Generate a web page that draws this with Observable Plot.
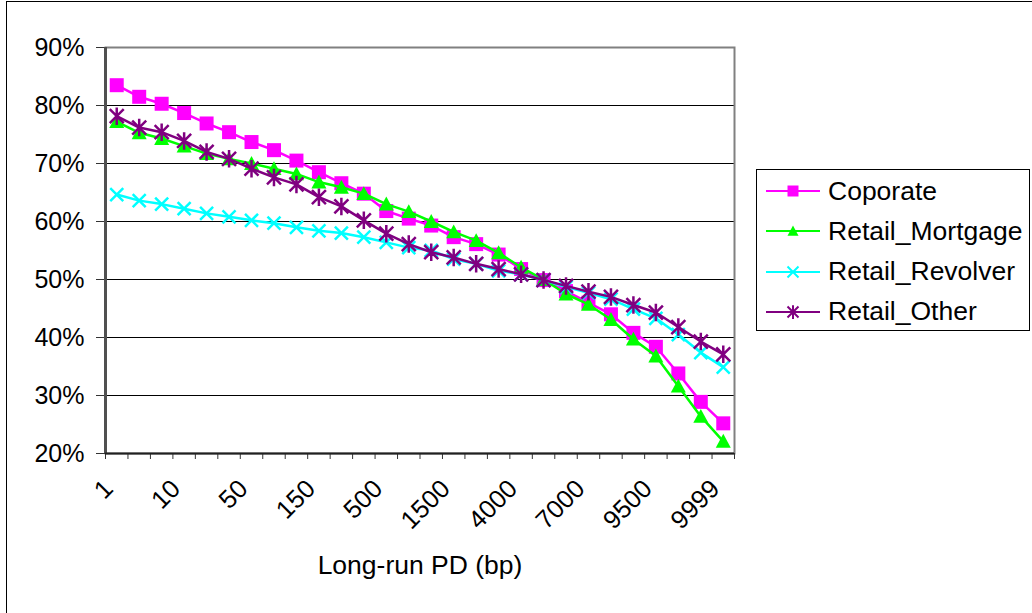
<!DOCTYPE html>
<html>
<head>
<meta charset="utf-8">
<script src="https://cdn.jsdelivr.net/npm/d3@7"></script>
<script src="https://cdn.jsdelivr.net/npm/@observablehq/plot@0.6"></script>
<style>
  body { margin: 0; background: #fff; font-family: "Liberation Sans", Arial, sans-serif; }
  #wrap { position: relative; width: 1032px; height: 613px; overflow: hidden; background: #fff; }
  #wrap > svg { position: absolute; left: 0; top: 0; }
  #border { position: absolute; left: 6px; top: 1px; width: 1040px; height: 640px; border: 1px solid #000; box-sizing: border-box; pointer-events: none; }
  #legend { position: absolute; left: 756px; top: 169px; width: 274px; height: 162px; border: 1px solid #000; box-sizing: border-box; background: #fff; }
  .item { position: absolute; left: 8px; height: 40px; display: flex; align-items: center; font-size: 26.5px; color: #000; white-space: nowrap; }
  .item svg { display: block; margin-right: 7px; }
</style>
</head>
<body>
<div id="wrap"><div id="border"></div></div>
<script>
// ---- data ----
const pdTickLabels = ["1", "10", "50", "150", "500", "1500", "4000", "7000", "9500", "9999"];
const labelStep = 3;
const nCategories = 28;
const yTickValues = [0.2, 0.3, 0.4, 0.5, 0.6, 0.7, 0.8, 0.9];
const xTitle = "Long-run PD (bp)";

const seriesNames = ["Coporate", "Retail_Mortgage", "Retail_Revolver", "Retail_Other"];
const seriesColors = ["#FF00FF", "#00FF00", "#00FFFF", "#800080"];

const coporate = [0.835, 0.815, 0.803, 0.787, 0.769, 0.754, 0.737, 0.723, 0.705, 0.685, 0.666, 0.648, 0.618, 0.605,
                  0.593, 0.573, 0.561, 0.543, 0.518, 0.499, 0.480, 0.460, 0.440, 0.408, 0.384, 0.338, 0.289, 0.252];
const retailMortgage = [0.772, 0.753, 0.743, 0.730, 0.717, 0.708, 0.700, 0.691, 0.682, 0.668, 0.659, 0.648, 0.630, 0.617,
                        0.600, 0.582, 0.567, 0.546, 0.521, 0.500, 0.475, 0.457, 0.431, 0.397, 0.368, 0.316, 0.264, 0.221];
const retailRevolver = [0.6465, 0.636, 0.630, 0.622, 0.614, 0.608, 0.602, 0.597, 0.590, 0.584, 0.580, 0.573, 0.564, 0.555,
                        0.550, 0.535, 0.527, 0.515, 0.509, 0.499, 0.487, 0.477, 0.466, 0.449, 0.433, 0.405, 0.374, 0.349];
const retailOther = [0.7815, 0.762, 0.754, 0.739, 0.720, 0.708, 0.691, 0.676, 0.664, 0.642, 0.626, 0.602, 0.579, 0.561,
                     0.547, 0.538, 0.527, 0.518, 0.509, 0.499, 0.489, 0.479, 0.470, 0.456, 0.443, 0.418, 0.393, 0.371];

// ---- symbols (Excel-like markers) ----
const half = size => Math.sqrt(size / Math.PI);
const squareSym = { draw(c, size) { const h = half(size); c.rect(-h, -h, 2 * h, 2 * h); } };
const triSym = { draw(c, size) { const h = half(size); c.moveTo(0, -h); c.lineTo(h, h * 0.85); c.lineTo(-h, h * 0.85); c.closePath(); } };
const timesSym = { draw(c, size) { const h = half(size); c.moveTo(-h, -h); c.lineTo(h, h); c.moveTo(h, -h); c.lineTo(-h, h); } };
const starSym = { draw(c, size) { const h = half(size); c.moveTo(-h, -h); c.lineTo(h, h); c.moveTo(h, -h); c.lineTo(-h, h); c.moveTo(0, -h * 1.25); c.lineTo(0, h * 1.25); } };

const seriesValues = [coporate, retailMortgage, retailRevolver, retailOther];
const seriesSymbols = [squareSym, triSym, timesSym, starSym];
const seriesFilled = [true, true, false, false];
const seriesR = [7, 7.5, 6.5, 7];

const series = seriesNames.map((name, k) => ({
  name, color: seriesColors[k], symbol: seriesSymbols[k], filled: seriesFilled[k], r: seriesR[k],
  rows: seriesValues[k].map((v, i) => ({ i, v }))
}));

const font = '"Liberation Sans", Arial, sans-serif';
const boundaries = d3.range(nCategories + 1).map(i => i - 0.5);
const labelIdx = d3.range(0, nCategories, labelStep);

const seriesMarks = series.flatMap(s => [
  Plot.line(s.rows, { x: "i", y: "v", stroke: s.color, strokeWidth: 2.5 }),
  Plot.dot(s.rows, s.filled
    ? { x: "i", y: "v", symbol: s.symbol, r: s.r, fill: s.color, stroke: "none" }
    : { x: "i", y: "v", symbol: s.symbol, r: s.r, fill: "none", stroke: s.color, strokeWidth: 2.5 })
]);

const chart = Plot.plot({
  width: 1032, height: 613,
  marginLeft: 105, marginRight: 298, marginTop: 47, marginBottom: 160,
  style: { fontFamily: font, fontSize: "25px", color: "#000", background: "transparent", overflow: "visible" },
  x: { type: "linear", domain: [-0.5, nCategories - 0.5] },
  y: { domain: [0.2, 0.9] },
  marks: [
    Plot.gridY(yTickValues, { stroke: "#000", strokeOpacity: 1, strokeWidth: 1 }),
    Plot.frame({ stroke: "#808080", strokeWidth: 2 }),
    Plot.axisY(yTickValues, { tickFormat: d3.format(".0%"), tickSize: 9, tickPadding: 12, stroke: "#333", fontSize: 25, label: null }),
    Plot.axisX(boundaries, { tickFormat: () => "", tickSize: 6, stroke: "#333", label: null }),
    Plot.axisX(labelIdx, { tickFormat: i => pdTickLabels[i / labelStep], tickSize: 0, tickRotate: -45, tickPadding: 31, dx: -8, fontSize: 25.5, label: null }),
    Plot.ruleX([-0.5], { stroke: "#505050", strokeWidth: 3 }),
    Plot.ruleY([0.2], { stroke: "#202020", strokeWidth: 2 }),
    ...seriesMarks,
    Plot.text([xTitle], { text: d => d, frameAnchor: "bottom", dy: 120, fontSize: 26.5, fill: "#000" })
  ]
});
const wrap = document.getElementById("wrap");
wrap.insertBefore(chart, wrap.firstChild);

// ---- legend ----
const legend = document.createElement("div");
legend.id = "legend";
series.forEach((s, k) => {
  const item = document.createElement("div");
  item.className = "item";
  item.style.top = (1 + k * 40.3) + "px";
  const sw = d3.create("svg").attr("width", 56).attr("height", 20);
  sw.append("line").attr("x1", 1).attr("x2", 55).attr("y1", 10).attr("y2", 10).attr("stroke", s.color).attr("stroke-width", 2);
  const r = 5.5;
  sw.append("path").attr("transform", "translate(28,10)")
    .attr("d", d3.symbol(s.symbol, Math.PI * r * r)())
    .attr("fill", s.filled ? s.color : "none")
    .attr("stroke", s.filled ? "none" : s.color)
    .attr("stroke-width", 2);
  item.appendChild(sw.node());
  const t = document.createElement("span");
  t.textContent = s.name;
  item.appendChild(t);
  legend.appendChild(item);
});
wrap.appendChild(legend);
</script>
</body>
</html>
